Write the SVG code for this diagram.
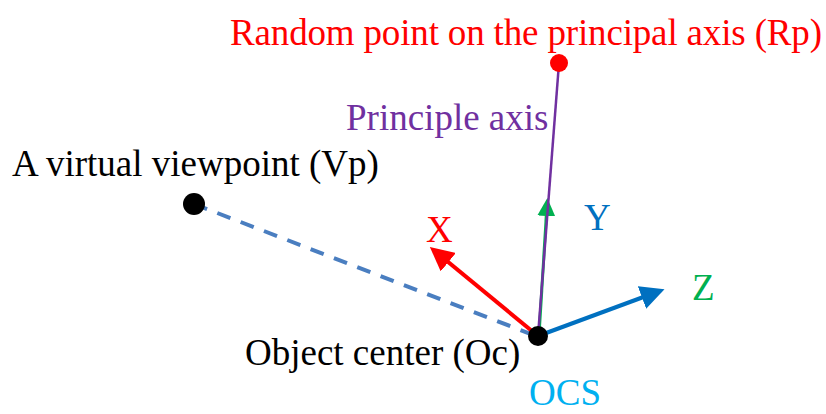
<svg xmlns="http://www.w3.org/2000/svg" width="826" height="414" viewBox="0 0 826 414">
<style>
text{font-family:"Liberation Serif","Times New Roman",serif;font-size:37px}
.ax{stroke-width:4;fill:none}
</style>
<defs>
<marker id="mr" markerWidth="6" markerHeight="6" refX="4" refY="3" orient="auto" markerUnits="strokeWidth"><path d="M0,0L6,3L0,6z" fill="#FF0000"/></marker>
<marker id="mb" markerWidth="6" markerHeight="6" refX="4" refY="3" orient="auto" markerUnits="strokeWidth"><path d="M0,0L6,3L0,6z" fill="#0070C0"/></marker>
<marker id="mg" markerWidth="6" markerHeight="6" refX="4" refY="3" orient="auto" markerUnits="strokeWidth"><path d="M0,0L6,3L0,6z" fill="#00B050"/></marker>
</defs>
<g id="connectors">
<line x1="194" y1="204" x2="536" y2="336" stroke="#4A7EC0" stroke-width="4" stroke-dasharray="14,11"/>
<line class="ax" x1="538" y1="336" x2="436" y2="252" stroke="#FF0000" marker-end="url(#mr)"/>
<line class="ax" x1="538" y1="336" x2="657" y2="292" stroke="#0070C0" marker-end="url(#mb)"/>
<line x1="539" y1="336" x2="547" y2="204" stroke="#00B050" stroke-width="3" marker-end="url(#mg)"/>
<line x1="538" y1="336" x2="559" y2="63" stroke="#7030A0" stroke-width="2.5"/>
</g>
<g id="rp"><circle cx="559" cy="63" r="9" fill="#FF0000"/><text x="230" y="45" fill="#FF0000" textLength="592">Random point on the principal axis (Rp)</text></g>
<g id="axis-label"><text x="346" y="130" fill="#7030A0">Principle axis</text></g>
<g id="vp"><circle cx="194" cy="204" r="11" fill="#000"/><text x="12" y="176" fill="#000">A virtual viewpoint (Vp)</text></g>
<g id="oc"><circle cx="538" cy="336" r="10" fill="#000"/><text x="245" y="365" fill="#000">Object center (Oc)</text></g>
<g id="x"><text x="426" y="242" fill="#FF0000">X</text></g>
<g id="y"><text x="584" y="230" fill="#0070C0">Y</text></g>
<g id="z"><text x="692" y="300" fill="#00B050">Z</text></g>
<g id="ocs"><text x="529" y="405" fill="#00B0F0">OCS</text></g>
</svg>
